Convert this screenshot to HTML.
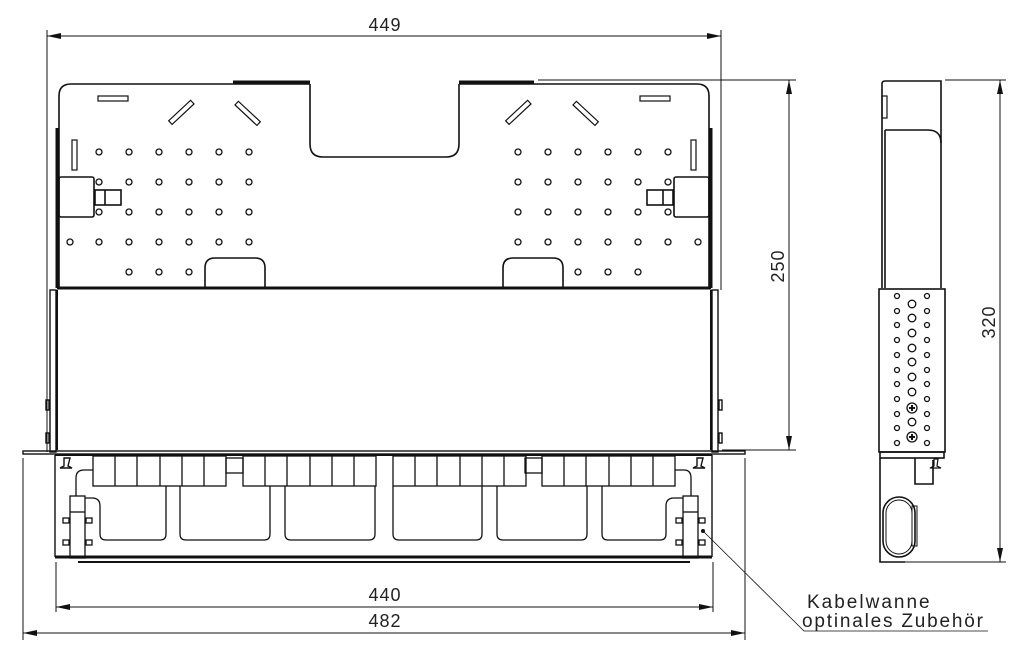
<!DOCTYPE html>
<html><head><meta charset="utf-8"><style>
html,body{margin:0;padding:0;background:#fff;}
svg{display:block;}
text{font-family:"Liberation Sans",sans-serif;fill:#222;}
</style></head><body>
<svg width="1024" height="661" viewBox="0 0 1024 661" xmlns="http://www.w3.org/2000/svg">
<defs>
<marker id="ar" markerWidth="14" markerHeight="6" refX="14" refY="3" orient="auto" markerUnits="userSpaceOnUse">
<path d="M0,0 L14,3 L0,6 Z" fill="#111"/></marker>
<marker id="al" markerWidth="14" markerHeight="6" refX="0" refY="3" orient="auto" markerUnits="userSpaceOnUse">
<path d="M14,0 L0,3 L14,6 Z" fill="#111"/></marker>
</defs>
<g stroke="#111" fill="none" stroke-width="1">
<line x1="47" y1="30" x2="47" y2="452"/>
<line x1="721" y1="30" x2="721" y2="290"/>
<line x1="47" y1="36" x2="721" y2="36" marker-start="url(#al)" marker-end="url(#ar)"/>
<line x1="538" y1="80" x2="796" y2="80"/>
<line x1="722" y1="450" x2="796" y2="450"/>
<line x1="789" y1="80" x2="789" y2="450" marker-start="url(#al)" marker-end="url(#ar)"/>
<line x1="945" y1="80" x2="1006" y2="80"/>
<line x1="905" y1="562" x2="1006" y2="562"/>
<line x1="1000" y1="80" x2="1000" y2="562" marker-start="url(#al)" marker-end="url(#ar)"/>
<line x1="56" y1="562" x2="56" y2="612"/>
<line x1="713" y1="562" x2="713" y2="612"/>
<line x1="23" y1="458" x2="23" y2="640"/>
<line x1="745" y1="458" x2="745" y2="640"/>
<line x1="56" y1="607" x2="713" y2="607" marker-start="url(#al)" marker-end="url(#ar)"/>
<line x1="23" y1="633" x2="745" y2="633" marker-start="url(#al)" marker-end="url(#ar)"/>
<polyline points="703,531 804,631 988,631" stroke-width="0.8"/>
<circle cx="703" cy="531" r="1.5" fill="#111"/>
</g>

<g stroke="#111" fill="none" stroke-width="1.6">
<path d="M59,288 L59,96 Q59,84 71,84 L310,84 M459,84 L697,84 Q709,84 709,96 L709,288"/>
<path d="M310,84 L310,144 Q310,157 323,157 L446,157 Q459,157 459,144 L459,84"/>
<line x1="233" y1="82" x2="310" y2="82" stroke-width="3"/>
<line x1="459" y1="82" x2="534" y2="82" stroke-width="3"/>
<line x1="57" y1="128" x2="57" y2="288" stroke-width="3"/>
<line x1="711" y1="128" x2="711" y2="288" stroke-width="3"/>
<line x1="57" y1="288" x2="711" y2="288" stroke-width="3"/>
<path d="M205,288 L205,268 Q205,258 215,258 L255,258 Q265,258 265,268 L265,288"/>
<path d="M503,288 L503,268 Q503,258 513,258 L553,258 Q563,258 563,268 L563,288"/>
<rect x="59" y="177" width="35" height="40" rx="2"/>
<rect x="95" y="190" width="26" height="15"/><line x1="105" y1="190" x2="105" y2="205"/>
<rect x="674" y="177" width="35" height="40" rx="2"/>
<rect x="647" y="190" width="26" height="15"/><line x1="663" y1="190" x2="663" y2="205"/>
</g>
<g stroke="#111" fill="none" stroke-width="1.2">
<rect x="98" y="96" width="30" height="5"/><rect x="640" y="96" width="30" height="5"/>
<rect x="72" y="140" width="5" height="30"/><rect x="691" y="140" width="5" height="30"/>
<rect x="166" y="110" width="30" height="5" transform="rotate(-43 181 112)"/>
<rect x="233" y="111" width="30" height="5" transform="rotate(43 248 113)"/>
<rect x="503" y="110" width="30" height="5" transform="rotate(-43 518 112)"/>
<rect x="571" y="111" width="30" height="5" transform="rotate(43 586 113)"/>
</g>
<g stroke="#111" fill="none" stroke-width="1.3">
<g id="hrow"><circle cx="99" cy="152" r="3"/><circle cx="129" cy="152" r="3"/><circle cx="159" cy="152" r="3"/><circle cx="189" cy="152" r="3"/><circle cx="219" cy="152" r="3"/><circle cx="249" cy="152" r="3"/></g>
<use href="#hrow" y="30"/><use href="#hrow" y="60"/><use href="#hrow" y="90"/>
<circle cx="70" cy="242" r="3"/>
<circle cx="129" cy="272" r="3"/><circle cx="159" cy="272" r="3"/><circle cx="189" cy="272" r="3"/>
<use href="#hrow" x="419"/><use href="#hrow" x="419" y="30"/><use href="#hrow" x="419" y="60"/><use href="#hrow" x="419" y="90"/>
<circle cx="698" cy="242" r="3"/>
<circle cx="578" cy="272" r="3"/><circle cx="608" cy="272" r="3"/><circle cx="638" cy="272" r="3"/>
</g>

<g stroke="#111" fill="none" stroke-width="1.4">
<rect x="50" y="290" width="6" height="162"/>
<rect x="712" y="290" width="6" height="162"/>
<line x1="57" y1="290" x2="57" y2="450" stroke-width="2"/>
<line x1="711" y1="290" x2="711" y2="450" stroke-width="2"/>
<rect x="46" y="400" width="3" height="10"/><rect x="46" y="433" width="3" height="10"/>
<rect x="719" y="400" width="3" height="10"/><rect x="719" y="433" width="3" height="10"/>
<rect x="23" y="451" width="722" height="3"/>
<line x1="55" y1="455" x2="712" y2="455" stroke-width="2"/>
<line x1="55" y1="455" x2="55" y2="557"/>
<line x1="712" y1="455" x2="712" y2="557"/>
<line x1="55" y1="557" x2="712" y2="557" stroke-width="3"/>
<line x1="78" y1="562" x2="690" y2="562" stroke-width="2"/>
<path d="M64,458 L70,458 L68,466 L72,468 L60,468 L64,466 Z"/>
<path d="M697,458 L703,458 L701,466 L705,468 L693,468 L697,466 Z"/>
</g>
<g stroke="#111" fill="none" stroke-width="1.3">
<g id="grp"><rect x="93" y="456" width="133" height="30"/><line x1="115" y1="456" x2="115" y2="486"/><line x1="137" y1="456" x2="137" y2="486"/><line x1="160" y1="456" x2="160" y2="486"/><line x1="182" y1="456" x2="182" y2="486"/><line x1="204" y1="456" x2="204" y2="486"/></g>
<use href="#grp" x="150"/><use href="#grp" x="300"/><use href="#grp" x="449"/>
<rect x="226" y="458" width="17" height="15"/><rect x="525" y="458" width="17" height="15"/>
<path d="M166,486 L166,534 Q166,540 160,540 L106,540 Q100,540 100,534 L100,506 Q100,498 92,498 L85,498"/>
<path d="M93,470 L84,470 Q76,470 76,478 L76,496"/>
<path d="M180,486 L180,534 Q180,540 186,540 L264,540 Q270,540 270,534 L270,486"/>
<path d="M285,486 L285,534 Q285,540 291,540 L369,540 Q375,540 375,534 L375,486"/>
<path d="M393,486 L393,534 Q393,540 399,540 L476,540 Q482,540 482,534 L482,486"/>
<path d="M497,486 L497,534 Q497,540 503,540 L581,540 Q587,540 587,534 L587,486"/>
<path d="M602,486 L602,534 Q602,540 608,540 L660,540 Q666,540 666,534 L666,506 Q666,498 674,498 L683,498"/>
<path d="M675,470 L684,470 Q691,470 691,478 L691,496"/>
<rect x="70" y="496" width="15" height="62"/><line x1="70" y1="512" x2="85" y2="512"/>
<rect x="683" y="496" width="15" height="62"/><line x1="683" y1="512" x2="698" y2="512"/>
<rect x="63" y="518" width="6" height="5"/><rect x="86" y="518" width="6" height="5"/>
<rect x="63" y="540" width="6" height="5"/><rect x="86" y="540" width="6" height="5"/>
<rect x="676" y="518" width="6" height="5"/><rect x="699" y="518" width="6" height="5"/>
<rect x="676" y="540" width="6" height="5"/><rect x="699" y="540" width="6" height="5"/>
</g>

<g stroke="#111" fill="none" stroke-width="1.6">
<path d="M882,288 L882,84 Q882,81 885,81 L941,81 L941,288"/>
<line x1="885" y1="130" x2="885" y2="288"/>
<path d="M885,130 L928,130 Q941,130 941,143"/>
<rect x="882" y="96" width="5" height="22" stroke-width="1.2"/>
<rect x="879" y="289" width="66" height="163"/>
<rect x="880" y="452" width="64" height="6"/>
<path d="M880,458 L880,562 L905,562"/>
<path d="M915,458 L915,484 L933,484 L933,460"/>
<path d="M934,459 L938,459 L937,466 L941,468 L930,468 L934,466 Z" stroke-width="1.2"/>
<rect x="883" y="497" width="32" height="60" rx="16"/>
<rect x="886" y="500" width="26" height="54" rx="13" stroke-width="1"/>
<rect x="912" y="506" width="5" height="40" stroke-width="1"/>
</g>
<g stroke="#111" fill="none" stroke-width="1.3">
<g id="scol"><circle cx="897" cy="296" r="2.5"/><circle cx="897" cy="311" r="2.5"/><circle cx="897" cy="325" r="2.5"/><circle cx="897" cy="340" r="2.5"/><circle cx="897" cy="355" r="2.5"/><circle cx="897" cy="370" r="2.5"/><circle cx="897" cy="384" r="2.5"/><circle cx="897" cy="399" r="2.5"/><circle cx="897" cy="414" r="2.5"/><circle cx="897" cy="428" r="2.5"/><circle cx="897" cy="443" r="2.5"/></g>
<use href="#scol" x="30"/>
<circle cx="912" cy="304" r="3.8"/><circle cx="912" cy="318" r="3.8"/><circle cx="912" cy="333" r="3.8"/><circle cx="912" cy="348" r="3.8"/><circle cx="912" cy="362" r="3.8"/><circle cx="912" cy="377" r="3.8"/><circle cx="912" cy="392" r="3.8"/><circle cx="912" cy="422" r="3.8"/>
<circle cx="912" cy="408" r="5"/><circle cx="912" cy="437" r="5"/>
</g>
<g stroke="#111" stroke-width="2"><line x1="909" y1="408" x2="915" y2="408"/><line x1="912" y1="405" x2="912" y2="411"/><line x1="909" y1="437" x2="915" y2="437"/><line x1="912" y1="434" x2="912" y2="440"/></g>

<text x="385" y="31" font-size="18" text-anchor="middle" letter-spacing="1">449</text>
<text x="385" y="601" font-size="18" text-anchor="middle" letter-spacing="1">440</text>
<text x="385" y="627" font-size="18" text-anchor="middle" letter-spacing="1">482</text>
<text transform="translate(784,266) rotate(-90)" font-size="18" text-anchor="middle" letter-spacing="1">250</text>
<text transform="translate(995,322) rotate(-90)" font-size="18" text-anchor="middle" letter-spacing="1">320</text>
<text x="807" y="608" font-size="19" letter-spacing="2">Kabelwanne</text>
<text x="802" y="627" font-size="19" letter-spacing="1.8">optinales Zubehör</text>
</svg>
</body></html>
